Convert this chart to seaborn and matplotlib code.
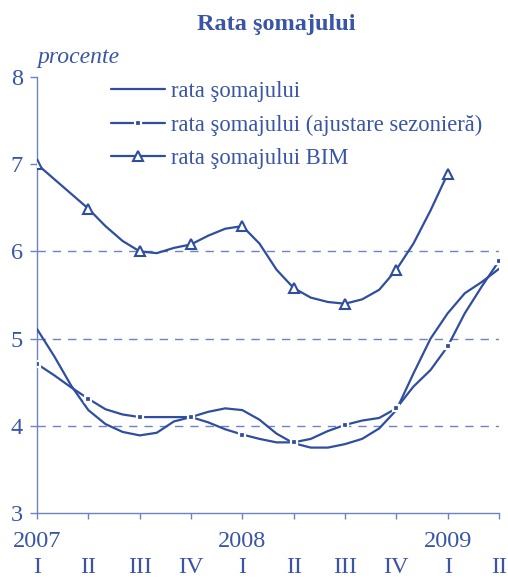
import matplotlib
matplotlib.use("Agg")
import matplotlib.pyplot as plt
import matplotlib.transforms as mtransforms
import pandas as pd
import seaborn as sns

# monthly values, Jan 2007 .. Apr 2009 (percent)
rata = [5.11, 4.80, 4.46, 4.18, 4.02, 3.93, 3.89, 3.92, 4.05, 4.10, 4.16, 4.20,
        4.18, 4.07, 3.91, 3.80, 3.75, 3.75, 3.79, 3.85, 3.97, 4.18, 4.60, 5.00,
        5.29, 5.52, 5.65, 5.80]
rata_sa = [4.71, 4.58, 4.44, 4.31, 4.19, 4.13, 4.10, 4.10, 4.10, 4.10, 4.04, 3.96,
           3.90, 3.85, 3.81, 3.81, 3.85, 3.94, 4.01, 4.06, 4.09, 4.20, 4.45, 4.64,
           4.91, 5.29, 5.60, 5.89]
rata_bim = [7.00, 6.83, 6.66, 6.49, 6.29, 6.12, 6.00, 5.98, 6.04, 6.08, 6.18, 6.26,
            6.29, 6.09, 5.79, 5.58, 5.47, 5.42, 5.40, 5.45, 5.56, 5.79, 6.09, 6.47,
            6.89]
quarter_labels = ["I", "II", "III", "IV", "I", "II", "III", "IV", "I", "II"]
year_labels = {0: "2007", 12: "2008", 24: "2009"}

labels = ["rata şomajului", "rata şomajului (ajustare sezonieră)", "rata şomajului BIM"]

df = pd.DataFrame({"luna": range(len(rata)), "rata": rata, "rata_sa": rata_sa})
df_bim = pd.DataFrame({"luna": range(len(rata_bim)), "bim": rata_bim})

line_c = "#2F4E9F"
text_c = "#3A55A5"
axis_c = "#6F82C4"

sns.set_style("white")
plt.rcParams["font.family"] = ["Liberation Serif", "DejaVu Serif"]

fig = plt.figure(figsize=(5.08, 5.79), dpi=100)
ax = fig.add_axes([37 / 508, 66 / 579, 462 / 508, 436 / 579])

for y in [4, 5, 6]:
    ax.axhline(y, color=axis_c, lw=1, ls=(0, (6, 5)), zorder=1)

sns.lineplot(data=df, x="luna", y="rata", ax=ax, color=line_c, lw=1.6,
             label=labels[0], zorder=3)
sns.lineplot(data=df, x="luna", y="rata_sa", ax=ax, color=line_c, lw=1.6,
             marker="s", markersize=4.5, markevery=3, markerfacecolor=line_c,
             markeredgecolor="white", markeredgewidth=1.6, label=labels[1], zorder=3)
sns.lineplot(data=df_bim, x="luna", y="bim", ax=ax, color=line_c, lw=1.6,
             marker="^", markersize=7, markevery=3, markerfacecolor="white",
             markeredgecolor=line_c, markeredgewidth=1.5, label=labels[2], zorder=4)

ax.set_xlim(0, 27)
ax.set_ylim(3, 8)
ax.set_xticks(range(0, 28, 3))
ax.set_xticklabels([])
ax.set_yticks([3, 4, 5, 6, 7, 8])
ax.set_xlabel("")
ax.set_ylabel("")
ax.tick_params(axis="y", direction="out", length=5, width=1, color=axis_c,
               labelcolor=text_c, labelsize=17.5, pad=5, left=True)
ax.tick_params(axis="x", direction="out", length=4, width=1, color=axis_c, bottom=True)
for s in ["top", "right"]:
    ax.spines[s].set_visible(False)
for s in ["left", "bottom"]:
    ax.spines[s].set_color(axis_c)
    ax.spines[s].set_linewidth(1)

trans = mtransforms.blended_transform_factory(ax.transData, fig.transFigure)
for pos, lab in zip(range(0, 28, 3), quarter_labels):
    ax.text(pos, 1 / 579, lab, transform=trans, ha="center", va="bottom",
            fontsize=17.5, color=text_c)
for pos, lab in year_labels.items():
    ax.text(pos, 32 / 579, lab, transform=trans, ha="center", va="baseline",
            fontsize=17.5, color=text_c)

fig.text(276 / 508, 1 - 30 / 579, "Rata şomajului", ha="center", va="baseline",
         fontsize=17.5, fontweight="bold", color=text_c)
fig.text(37 / 508, 1 - 63 / 579, "procente", ha="left", va="baseline",
         fontsize=17, fontstyle="italic", color=text_c)

leg = ax.legend(loc="upper left", bbox_to_anchor=(102 / 508, 1 - 72 / 579),
                bbox_transform=fig.transFigure, frameon=False, fontsize=16.3,
                handlelength=2.4, handletextpad=0.25, labelspacing=0.55,
                borderaxespad=0)
for t in leg.get_texts():
    t.set_color(text_c)

fig.savefig("out.png", dpi=100)
